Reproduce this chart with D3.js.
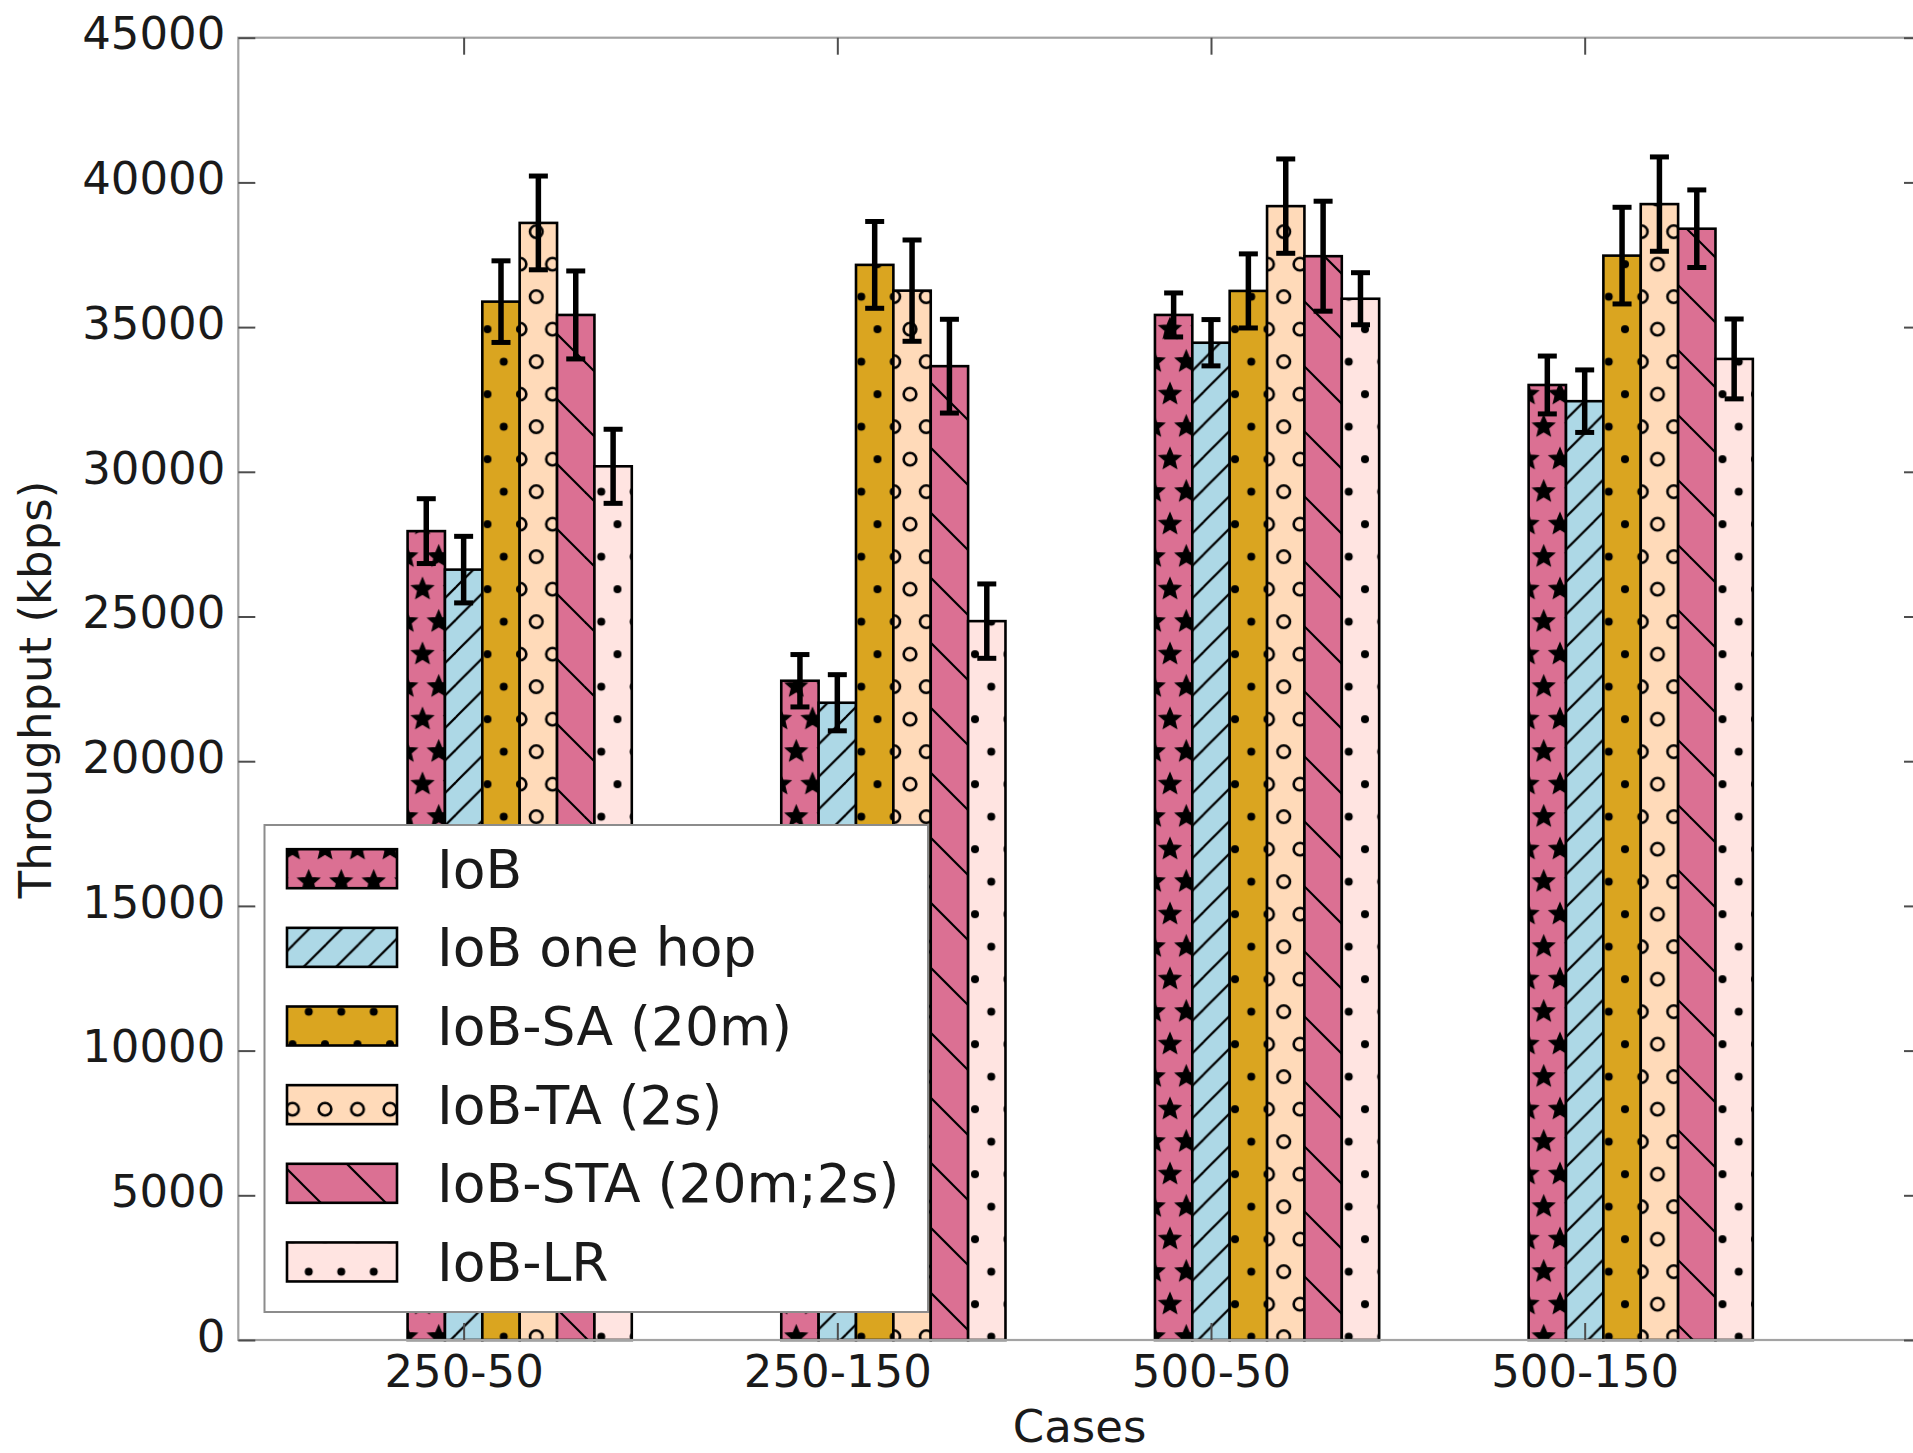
<!DOCTYPE html>
<html><head><meta charset="utf-8">
<script src="https://cdn.jsdelivr.net/npm/d3@7"></script>
<style>
body{margin:0;background:#fff}
svg{display:block}
text{font-family:"DejaVu Sans",sans-serif;fill:#1a1a1a}
</style>
</head><body>
<svg id="chart" width="1913" height="1453"></svg>
<script>
// ---------------- data ----------------
const cases = ["250-50", "250-150", "500-50", "500-150"];
const seriesNames = ["IoB", "IoB one hop", "IoB-SA (20m)", "IoB-TA (2s)", "IoB-STA (20m;2s)", "IoB-LR"];
const iobValues    = [27950, 22780, 35420, 33000];
const oneHopValues = [26620, 22020, 34460, 32440];
const saValues     = [35880, 37150, 36250, 37470];
const taValues     = [38600, 36260, 39180, 39250];
const staValues    = [35420, 33650, 37450, 38400];
const lrValues     = [30190, 24840, 35980, 33900];
const iobErr    = [1120, 905, 760, 1000];
const oneHopErr = [1150, 970, 800, 1080];
const saErr     = [1410, 1500, 1280, 1670];
const taErr     = [1620, 1750, 1630, 1630];
const staErr    = [1520, 1620, 1900, 1340];
const lrErr     = [1280, 1285, 900, 1380];
const yTickValues = [0, 5000, 10000, 15000, 20000, 25000, 30000, 35000, 40000, 45000];

const seriesValues = [iobValues, oneHopValues, saValues, taValues, staValues, lrValues];
const seriesErrors = [iobErr, oneHopErr, saErr, taErr, staErr, lrErr];
const seriesColors = ["#DB7093", "#ADD8E6", "#DAA520", "#FFDAB9", "#DB7093", "#FFE4E1"];
const seriesHatch  = ["stars", "fwd2", "dots", "circles", "back", "dots"];

// ---------------- layout ----------------
const svg = d3.select("#chart");
const plot = {left: 238.3, right: 1921, top: 37.7, bottom: 1340};
const barW = 0.1;
const x = d3.scaleLinear().domain([-0.453, 4.05]).range([plot.left, plot.right]);
const y = d3.scaleLinear().domain([0, 45000]).range([plot.bottom, plot.top]);
const tickPos = cases.map((c, i) => i + 1.5 * barW);

// ---------------- hatch patterns ----------------
const defs = svg.append("defs");
const S = 32.5;
function starPath(cx, cy, R) {
  const pts = [];
  for (let i = 0; i < 10; i++) {
    const a = -Math.PI / 2 + i * Math.PI / 5;
    const r = i % 2 === 0 ? R : R * 0.45;
    pts.push([cx + r * Math.cos(a), cy + r * Math.sin(a)]);
  }
  return "M" + pts.map(p => p.join(",")).join("L") + "Z";
}
function shapePattern(id, bg, draw) {
  const p = defs.append("pattern").attr("id", id).attr("patternUnits", "userSpaceOnUse")
    .attr("x", 0).attr("y", 4.2).attr("width", S).attr("height", 2 * S);
  p.append("rect").attr("width", S).attr("height", 2 * S).attr("fill", bg);
  [[0, 0], [S, 0], [0, 2 * S], [S, 2 * S], [S / 2, S]].forEach(([cx, cy]) => draw(p, cx, cy));
}
seriesNames.forEach((name, k) => {
  const id = "pat" + k, bg = seriesColors[k], h = seriesHatch[k];
  if (h === "stars") {
    shapePattern(id, bg, (p, cx, cy) => p.append("path").attr("d", starPath(cx, cy, 11))
      .attr("fill", "#000").attr("stroke", "#000").attr("stroke-width", 1.4).attr("stroke-linejoin", "miter"));
  } else if (h === "dots") {
    shapePattern(id, bg, (p, cx, cy) => p.append("circle").attr("cx", cx).attr("cy", cy).attr("r", 4).attr("fill", "#000"));
  } else if (h === "circles") {
    shapePattern(id, bg, (p, cx, cy) => p.append("circle").attr("cx", cx).attr("cy", cy).attr("r", 6.3)
      .attr("fill", "none").attr("stroke", "#000").attr("stroke-width", 2.6));
  } else if (h === "back") {
    const P = 65;
    const p = defs.append("pattern").attr("id", id).attr("patternUnits", "userSpaceOnUse")
      .attr("width", P).attr("height", P);
    p.append("rect").attr("width", P).attr("height", P).attr("fill", bg);
    for (let kk = -2; kk <= 1; kk++) {
      const c = 37 + P * kk;
      p.append("line").attr("x1", -10).attr("y1", c - 10).attr("x2", P + 10).attr("y2", c + P + 10)
        .attr("stroke", "#000").attr("stroke-width", 2.2);
    }
  } else if (h === "fwd2") {
    const P = S;
    const p = defs.append("pattern").attr("id", id).attr("patternUnits", "userSpaceOnUse")
      .attr("width", P).attr("height", P);
    p.append("rect").attr("width", P).attr("height", P).attr("fill", bg);
    for (let kk = -1; kk <= 2; kk++) {
      const c = 3 + P * kk;
      p.append("line").attr("x1", -10).attr("y1", c + 10).attr("x2", P + 10).attr("y2", c - P - 10)
        .attr("stroke", "#000").attr("stroke-width", 2.2);
    }
  }
});

// ---------------- bars ----------------
const gBars = svg.append("g");
seriesNames.forEach((name, k) => {
  gBars.append("g").selectAll("rect").data(seriesValues[k]).join("rect")
    .attr("x", (d, i) => x(i + k * barW))
    .attr("width", x(barW) - x(0))
    .attr("y", d => y(d))
    .attr("height", d => y(0) - y(d))
    .attr("fill", "url(#pat" + k + ")")
    .attr("stroke", "#000").attr("stroke-width", 2.6);
});

// ---------------- error bars ----------------
const gErr = svg.append("g");
const capHalf = 9.5;
seriesNames.forEach((name, k) => {
  const vals = seriesValues[k], errs = seriesErrors[k];
  vals.forEach((v, i) => {
    const cx = x(i + k * barW + barW / 2);
    const e = errs[i];
    gErr.append("line").attr("x1", cx).attr("x2", cx).attr("y1", y(v - e)).attr("y2", y(v + e))
      .attr("stroke", "#000").attr("stroke-width", 5.5);
    [v - e, v + e].forEach(t => gErr.append("line").attr("x1", cx - capHalf).attr("x2", cx + capHalf)
      .attr("y1", y(t)).attr("y2", y(t)).attr("stroke", "#000").attr("stroke-width", 5));
  });
});

// ---------------- axes ----------------
svg.append("rect").attr("x", plot.left).attr("y", plot.top)
  .attr("width", plot.right - plot.left).attr("height", plot.bottom - plot.top)
  .attr("fill", "none").attr("stroke", "#a3a3a3").attr("stroke-width", 2.2);

function styleAxis(g) {
  g.select(".domain").remove();
  g.selectAll(".tick line").attr("stroke", "#4d4d4d").attr("stroke-width", 2);
  g.selectAll("text").attr("font-size", 45).attr("font-family", "DejaVu Sans").attr("fill", "#1a1a1a");
}
const yAxisL = svg.append("g").attr("transform", `translate(${plot.left},0)`)
  .call(d3.axisLeft(y).tickValues(yTickValues).tickFormat(d3.format("d")).tickSizeInner(-17).tickSizeOuter(0).tickPadding(13));
styleAxis(yAxisL);
yAxisL.selectAll("text").attr("dy", "0.25em");

const yAxisR = svg.append("g").attr("transform", `translate(${plot.right},0)`)
  .call(d3.axisRight(y).tickValues(yTickValues).tickFormat("").tickSizeInner(-17).tickSizeOuter(0));
styleAxis(yAxisR);

const xAxisB = svg.append("g").attr("transform", `translate(0,${plot.bottom})`)
  .call(d3.axisBottom(x).tickValues(tickPos).tickFormat((d, i) => cases[i]).tickSizeInner(-17).tickSizeOuter(0).tickPadding(15.5));
styleAxis(xAxisB);

const xAxisT = svg.append("g").attr("transform", `translate(0,${plot.top})`)
  .call(d3.axisTop(x).tickValues(tickPos).tickFormat("").tickSizeInner(-17).tickSizeOuter(0));
styleAxis(xAxisT);

svg.append("text").attr("x", (plot.left + plot.right) / 2).attr("y", 1442)
  .attr("text-anchor", "middle").attr("font-size", 45).text("Cases");
svg.append("text").attr("transform", "translate(51,689.5) rotate(-90)")
  .attr("text-anchor", "middle").attr("font-size", 45).text("Throughput (kbps)");

// ---------------- legend ----------------
const lg = svg.append("g");
lg.append("rect").attr("x", 264.5).attr("y", 825).attr("width", 663.5).attr("height", 487)
  .attr("fill", "#fff").attr("stroke", "#8c8c8c").attr("stroke-width", 2);
const rowY0 = 868.7, rowStep = 78.65;
seriesNames.forEach((name, k) => {
  const cy = rowY0 + k * rowStep;
  lg.append("rect").attr("x", 287).attr("y", cy - 19.5).attr("width", 110).attr("height", 39)
    .attr("fill", "url(#pat" + k + ")").attr("stroke", "#000").attr("stroke-width", 2.6);
  lg.append("text").attr("x", 437).attr("y", cy + 19).attr("font-size", 53.5).text(name);
});
</script>
</body></html>
